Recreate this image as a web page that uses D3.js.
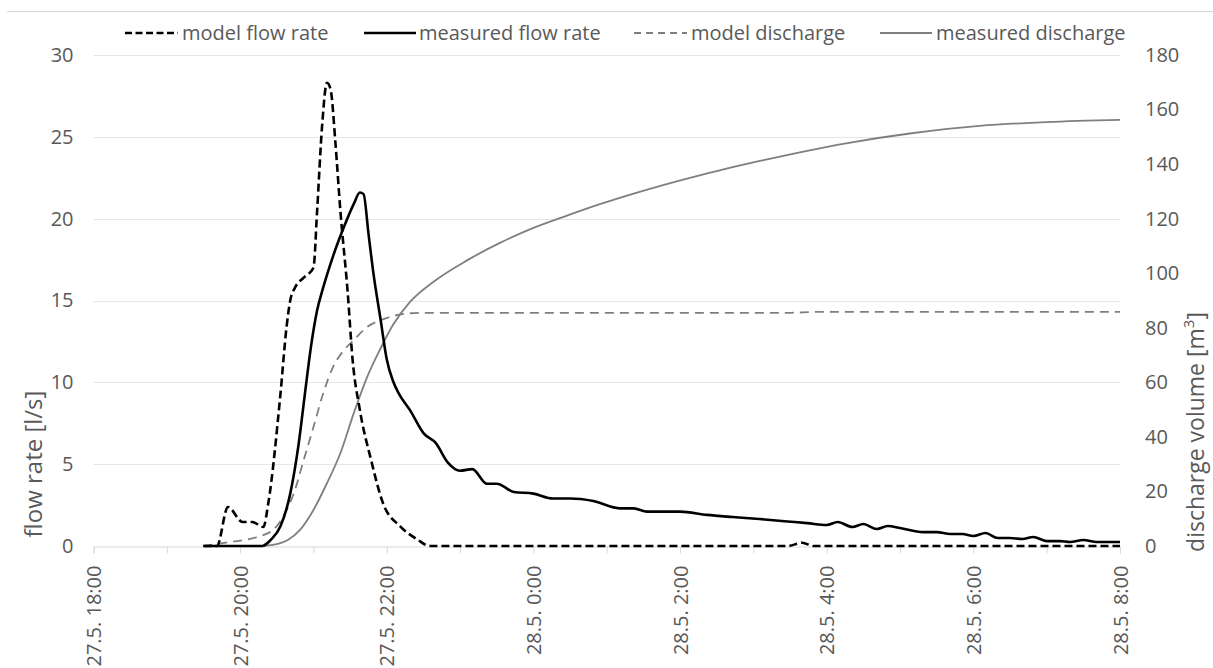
<!DOCTYPE html>
<html>
<head>
<meta charset="utf-8">
<script src="https://cdn.jsdelivr.net/npm/d3@7"></script>
<style>
  html, body { margin: 0; padding: 0; background: #fff; }
  svg { display: block; }
  text { font-family: "Open Sans", sans-serif; fill: #595959; }
</style>
</head>
<body>
<svg id="chart" width="1213" height="668"></svg>
<script>
// ---- data: [time, value] pairs ----
// flow rates in l/s (left axis)
const modelFlowRate = [
  ["27.5. 19:30", 0], ["27.5. 19:41", 0], ["27.5. 19:50", 2.38], ["27.5. 20:02", 1.47],
  ["27.5. 20:10", 1.47], ["27.5. 20:19", 1.16], ["27.5. 20:23", 2.6], ["27.5. 20:33", 9.3],
  ["27.5. 20:38", 13.4], ["27.5. 20:41", 15.0], ["27.5. 20:45", 15.8], ["27.5. 20:52", 16.4],
  ["27.5. 21:00", 17.0], ["27.5. 21:03", 20.5], ["27.5. 21:07", 25.6], ["27.5. 21:11", 28.3],
  ["27.5. 21:14", 27.9], ["27.5. 21:18", 24.6], ["27.5. 21:22", 20.5], ["27.5. 21:28", 15.5],
  ["27.5. 21:32", 11.4], ["27.5. 21:38", 8.3], ["27.5. 21:47", 5.3], ["27.5. 21:57", 2.6],
  ["27.5. 22:11", 1.2], ["27.5. 22:25", 0.4], ["27.5. 22:35", 0], ["28.5. 3:28", 0],
  ["28.5. 3:40", 0.2], ["28.5. 3:49", 0], ["28.5. 8:00", 0]
];
const measuredFlowRate = [
  ["27.5. 19:30", 0], ["27.5. 20:18", 0], ["27.5. 20:25", 0.37], ["27.5. 20:33", 1.2],
  ["27.5. 20:41", 3.2], ["27.5. 20:48", 6.3], ["27.5. 20:53", 9.3], ["27.5. 20:58", 12.2],
  ["27.5. 21:03", 14.4], ["27.5. 21:08", 15.8], ["27.5. 21:16", 17.7], ["27.5. 21:25", 19.5],
  ["27.5. 21:33", 20.9], ["27.5. 21:38", 21.6], ["27.5. 21:41", 21.5], ["27.5. 21:45", 19.1],
  ["27.5. 21:49", 16.7], ["27.5. 21:55", 13.8], ["27.5. 22:00", 11.4], ["27.5. 22:05", 10.1],
  ["27.5. 22:10", 9.3], ["27.5. 22:19", 8.3], ["27.5. 22:30", 6.9], ["27.5. 22:40", 6.3],
  ["27.5. 22:50", 5.1], ["27.5. 23:00", 4.6], ["27.5. 23:10", 4.7], ["27.5. 23:22", 3.8],
  ["27.5. 23:30", 3.8], ["27.5. 23:44", 3.3], ["28.5. 0:00", 3.2], ["28.5. 0:16", 2.9],
  ["28.5. 0:30", 2.9], ["28.5. 0:49", 2.75], ["28.5. 1:11", 2.3], ["28.5. 1:22", 2.3],
  ["28.5. 1:33", 2.1], ["28.5. 2:00", 2.1], ["28.5. 2:22", 1.9], ["28.5. 2:43", 1.77],
  ["28.5. 3:05", 1.65], ["28.5. 3:28", 1.5], ["28.5. 3:44", 1.4], ["28.5. 4:00", 1.28],
  ["28.5. 4:09", 1.47], ["28.5. 4:21", 1.16], ["28.5. 4:30", 1.34], ["28.5. 4:41", 1.04],
  ["28.5. 4:50", 1.22], ["28.5. 5:00", 1.1], ["28.5. 5:19", 0.85], ["28.5. 5:30", 0.85],
  ["28.5. 5:41", 0.73], ["28.5. 5:51", 0.73], ["28.5. 6:00", 0.61], ["28.5. 6:10", 0.79],
  ["28.5. 6:20", 0.49], ["28.5. 6:30", 0.49], ["28.5. 6:40", 0.43], ["28.5. 6:49", 0.55],
  ["28.5. 7:00", 0.3], ["28.5. 7:11", 0.3], ["28.5. 7:19", 0.24], ["28.5. 7:30", 0.37],
  ["28.5. 7:41", 0.24], ["28.5. 8:00", 0.24]
];
// cumulative discharge volumes in m3 (right axis)
const modelDischarge = [
  ["27.5. 19:30", 0], ["27.5. 19:52", 1.5], ["27.5. 20:14", 3.3], ["27.5. 20:27", 5.9],
  ["27.5. 20:35", 10.6], ["27.5. 20:44", 19.4], ["27.5. 20:52", 31.5], ["27.5. 21:00", 43.6],
  ["27.5. 21:08", 56], ["27.5. 21:16", 65.6], ["27.5. 21:25", 71.8], ["27.5. 21:33", 75.5],
  ["27.5. 21:44", 80.3], ["27.5. 21:55", 82.8], ["27.5. 22:09", 84.7], ["27.5. 22:22", 85.4],
  ["27.5. 22:35", 85.5], ["28.5. 3:30", 85.5], ["28.5. 3:50", 85.8], ["28.5. 8:00", 85.8]
];
const measuredDischarge = [
  ["27.5. 19:30", 0], ["27.5. 20:18", 0], ["27.5. 20:25", 0.3], ["27.5. 20:39", 2.2],
  ["27.5. 20:49", 5.9], ["27.5. 21:00", 13.2], ["27.5. 21:11", 23], ["27.5. 21:22", 34],
  ["27.5. 21:33", 48.7], ["27.5. 21:44", 62], ["27.5. 21:55", 72.5], ["27.5. 22:05", 81],
  ["27.5. 22:19", 89.5], ["27.5. 22:38", 96.8], ["27.5. 23:06", 104.8], ["27.5. 23:33", 111.2],
  ["28.5. 0:00", 116.6], ["28.5. 0:28", 121.2], ["28.5. 0:55", 125.4], ["28.5. 1:22", 129.2],
  ["28.5. 1:49", 132.7], ["28.5. 2:16", 135.9], ["28.5. 2:43", 138.9], ["28.5. 3:11", 141.7],
  ["28.5. 3:38", 144.3], ["28.5. 4:17", 147.7], ["28.5. 5:11", 151.4], ["28.5. 6:05", 154],
  ["28.5. 7:00", 155.4], ["28.5. 8:00", 156.2]
];
const timeRange = ["27.5. 18:00", "28.5. 8:00"];
const flowTicks = [0, 5, 10, 15, 20, 25, 30];
const volumeTicks = [0, 20, 40, 60, 80, 100, 120, 140, 160, 180];
const legendLabels = ["model flow rate", "measured flow rate", "model discharge", "measured discharge"];

// ---- layout ----
const W = 1213, H = 668;
const plot = { left: 93.5, right: 1120, top: 55, bottom: 546 };
const parse = d3.timeParse("%d.%m. %H:%M");
const fmt = d3.timeFormat("%-d.%-m. %-H:%M");

const x = d3.scaleTime().domain(timeRange.map(parse)).range([plot.left, plot.right]);
const yL = d3.scaleLinear().domain([0, 30]).range([plot.bottom, plot.top]);
const yR = d3.scaleLinear().domain([0, 180]).range([plot.bottom, plot.top]);

const svg = d3.select("#chart");

// chart area border (top edge)
svg.append("line").attr("x1", 7).attr("x2", W).attr("y1", 11.5).attr("y2", 11.5)
  .attr("stroke", "#d9d9d9").attr("stroke-width", 1);

// horizontal gridlines
svg.append("g").selectAll("line").data(flowTicks.filter(d => d > 0)).join("line")
  .attr("x1", plot.left).attr("x2", plot.right)
  .attr("y1", d => Math.round(yL(d)) + 0.5).attr("y2", d => Math.round(yL(d)) + 0.5)
  .attr("stroke", "#e6e6e6").attr("stroke-width", 1);

// x axis with hourly ticks, labels every two hours
const xAxis = d3.axisBottom(x)
  .ticks(d3.timeHour.every(1))
  .tickSize(7)
  .tickFormat(d => d.getHours() % 2 === 0 ? fmt(d) : "");
const gx = svg.append("g").attr("transform", `translate(0,${plot.bottom + 0.5})`).call(xAxis);
gx.select(".domain").attr("stroke", "#d9d9d9");
gx.selectAll(".tick line").attr("stroke", "#d9d9d9");
gx.selectAll(".tick text")
  .attr("transform", "rotate(-90)")
  .attr("text-anchor", "end")
  .attr("x", -19).attr("y", 0).attr("dy", "0.36em")
  .style("font-size", "20px").style("font-family", "'Open Sans', sans-serif").attr("fill", "#595959");

// left axis
const gl = svg.append("g").attr("transform", `translate(${plot.left},0)`)
  .call(d3.axisLeft(yL).tickValues(flowTicks).tickSize(0).tickPadding(20));
gl.select(".domain").remove();
gl.selectAll(".tick text").style("font-size", "20px").style("font-family", "'Open Sans', sans-serif").attr("fill", "#595959");

// right axis
const gr = svg.append("g").attr("transform", `translate(${plot.right},0)`)
  .call(d3.axisRight(yR).tickValues(volumeTicks).tickSize(0).tickPadding(25));
gr.select(".domain").remove();
gr.selectAll(".tick text").style("font-size", "20px").style("font-family", "'Open Sans', sans-serif").attr("fill", "#595959");

// axis titles
svg.append("text")
  .attr("transform", "translate(42,464) rotate(-90)")
  .attr("text-anchor", "middle").style("font-size", "24px")
  .text("flow rate [l/s]");
const rt = svg.append("text")
  .attr("transform", "translate(1204,432) rotate(-90)")
  .attr("text-anchor", "middle").style("font-size", "23px");
rt.append("tspan").text("discharge volume [m");
rt.append("tspan").attr("baseline-shift", "super").style("font-size", "15px").text("3");
rt.append("tspan").text("]");

// series styles
const series = [
  { data: modelFlowRate, y: yL, color: "#000", width: 2.6, dash: "8,4" },
  { data: measuredFlowRate, y: yL, color: "#000", width: 2.6, dash: null },
  { data: modelDischarge, y: yR, color: "#7f7f7f", width: 1.8, dash: "9,6" },
  { data: measuredDischarge, y: yR, color: "#7f7f7f", width: 1.8, dash: null }
];

// draw discharge lines first, flow rate lines on top
[2, 3, 0, 1].forEach(i => {
  const s = series[i];
  const line = d3.line()
    .x(d => x(parse(d[0])))
    .y(d => s.y(d[1]))
    .curve(d3.curveMonotoneX);
  svg.append("path")
    .attr("d", line(s.data))
    .attr("fill", "none")
    .attr("stroke", s.color)
    .attr("stroke-width", s.width)
    .attr("stroke-dasharray", s.dash)
    .attr("stroke-linejoin", "round");
});

// legend
const legendPos = [
  { x1: 125, x2: 178, tx: 182 },
  { x1: 364, x2: 416, tx: 419 },
  { x1: 634, x2: 687, tx: 691 },
  { x1: 880, x2: 932, tx: 936 }
];
const legendDash = ["7,3.5", null, "7,5", null];
legendLabels.forEach((label, i) => {
  const p = legendPos[i], s = series[i];
  svg.append("line")
    .attr("x1", p.x1).attr("x2", p.x2).attr("y1", 33).attr("y2", 33)
    .attr("stroke", s.color).attr("stroke-width", s.width)
    .attr("stroke-dasharray", legendDash[i]);
  svg.append("text").attr("x", p.tx).attr("y", 39.5)
    .style("font-size", "20px").text(label);
});
</script>
</body>
</html>
